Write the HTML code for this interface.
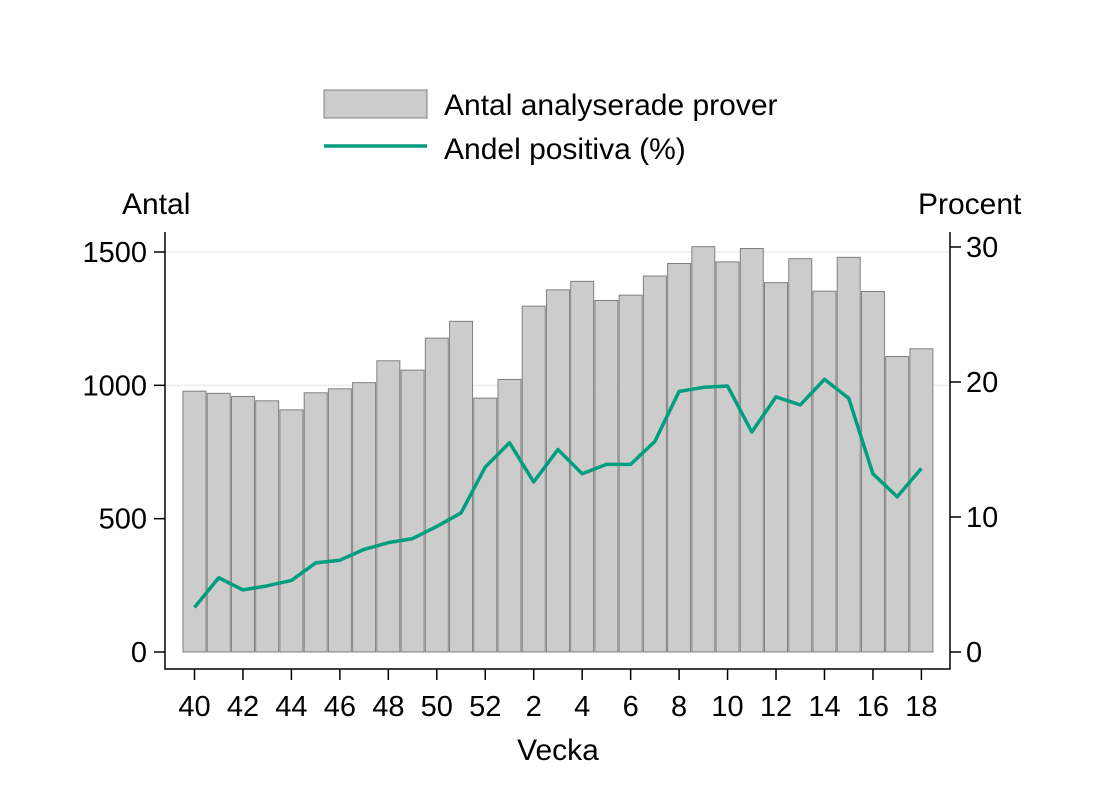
<!DOCTYPE html>
<html><head><meta charset="utf-8"><style>
body{margin:0;background:#fff;}
text{font-family:"Liberation Sans",Arial,sans-serif;fill:#000;}
</style></head><body>
<svg id="chart" width="1100" height="800" viewBox="0 0 1100 800">
<rect x="0" y="0" width="1100" height="800" fill="#fff"/>
<g id="grid"></g><g id="bars"></g><g id="line"></g><g id="axes"></g>
<g>
<rect x="324" y="90" width="103" height="28" fill="#cccccc" stroke="#808080"/>
<text x="444" y="115" font-size="30">Antal analyserade prover</text>
<line x1="324" y1="146" x2="427" y2="146" stroke="#009e80" stroke-width="3.5"/>
<text x="444" y="159" font-size="30">Andel positiva (%)</text>
</g>
<text x="122" y="214" font-size="30">Antal</text>
<text x="918" y="214" font-size="30">Procent</text>
<text x="558" y="760" font-size="30" text-anchor="middle">Vecka</text>
</svg>
<script>
const weeks=[40,41,42,43,44,45,46,47,48,49,50,51,52,1,2,3,4,5,6,7,8,9,10,11,12,13,14,15,16,17,18];
const counts=[978,970,958,942,908,972,987,1010,1092,1057,1177,1240,952,1022,1297,1358,1390,1318,1338,1410,1457,1520,1463,1513,1385,1475,1353,1480,1352,1108,1137];
const percents=[3.3,5.5,4.6,4.9,5.3,6.6,6.8,7.6,8.1,8.4,9.3,10.3,13.7,15.5,12.6,15.0,13.2,13.9,13.9,15.6,19.3,19.6,19.7,16.3,18.9,18.3,20.2,18.8,13.2,11.5,13.6];
const leftTicks=[0,500,1000,1500];
const rightTicks=[0,10,20,30];
const xTickIdx=[0,2,4,6,8,10,12,14,16,18,20,22,24,26,28,30];
const NS="http://www.w3.org/2000/svg";
const xS=i=>194.5+i*24.23;
const yL=v=>652-v*0.26667;
const yR=v=>652-v*13.5;
function mk(parent,tag,attrs){const e=document.createElementNS(NS,tag);for(const k in attrs)e.setAttribute(k,attrs[k]);document.getElementById(parent).appendChild(e);return e;}
[1000,1500].forEach(v=>{const g=mk('grid','line',{x1:165,x2:950,y1:yL(v),y2:yL(v),stroke:'#e8eef0','stroke-width':1.5});

});
counts.forEach((c,i)=>{const r=mk('bars','rect',{x:xS(i)-11.5,y:yL(c),width:23,height:yL(0)-yL(c),fill:'#cccccc',stroke:'#808080','stroke-width':1});

});
const p=mk('line','polyline',{points:percents.map((v,i)=>xS(i)+','+yR(v)).join(' '),fill:'none',stroke:'#009e80','stroke-width':3.5,'stroke-linejoin':'round'});


const al=mk('axes','polyline',{points:'165,232 165,669 950,669 950,232',fill:'none',stroke:'#000','stroke-width':1.5});


leftTicks.forEach(v=>{const t=mk('axes','line',{x1:154,x2:165,y1:yL(v),y2:yL(v),stroke:'#000','stroke-width':1.5});


const l=mk('axes','text',{x:147,y:yL(v)+10,'font-size':29,'text-anchor':'end'});l.textContent=v;

});
rightTicks.forEach(v=>{const t=mk('axes','line',{x1:950,x2:961,y1:yR(v),y2:yR(v),stroke:'#000','stroke-width':1.5});


const l=mk('axes','text',{x:966,y:yR(v)+10,'font-size':29});l.textContent=v;

});
xTickIdx.forEach(i=>{const t=mk('axes','line',{x1:xS(i),x2:xS(i),y1:669,y2:680,stroke:'#000','stroke-width':1.5});


const l=mk('axes','text',{x:xS(i),y:716,'font-size':29,'text-anchor':'middle'});l.textContent=weeks[i];

});
</script>
</body></html>
